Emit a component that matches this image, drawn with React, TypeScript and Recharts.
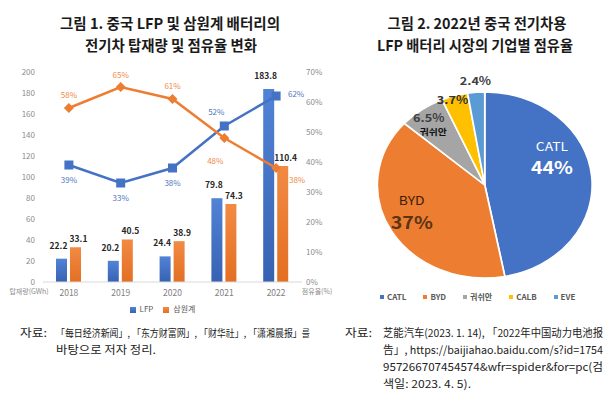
import React from 'react';
import {
  ComposedChart,
  Bar,
  Line,
  XAxis,
  YAxis,
  Legend,
  LabelList,
  PieChart,
  Pie,
  Cell,
} from 'recharts';

// ---------- data: figure 1 ----------
const years = ['2018', '2019', '2020', '2021', '2022'];
const lfpVolume = [22.2, 20.2, 24.4, 79.8, 183.8];
const ncmVolume = [33.1, 40.5, 38.9, 74.3, 110.4];
const lfpShare = [39, 33, 38, 52, 62];
const ncmShare = [58, 65, 61, 48, 38];
const volumeTicks = [0, 20, 40, 60, 80, 100, 120, 140, 160, 180, 200];
const shareTicks = [0, 10, 20, 30, 40, 50, 60, 70];

// ---------- data: figure 2 ----------
const companies = ['CATL', 'BYD', '궈쉬안', 'CALB', 'EVE'];
const companyShare = [44, 37, 6.5, 3.7, 2.4];

// ---------- texts ----------
const title1 = ['그림 1. 중국 LFP 및 삼원계 배터리의', '전기차 탑재량 및 점유율 변화'];
const title2 = ['그림 2. 2022년 중국 전기차용', 'LFP 배터리 시장의 기업별 점유율'];
const sourceLabel = '자료:';
const note1 = ['「每日经济新闻」, 「东方财富网」, 「财华社」, 「潇湘晨报」를', '바탕으로 저자 정리.'];
const note2 = [
  '芝能汽车(2023. 1. 14), 「2022年中国动力电池报',
  '告」, https://baijiahao.baidu.com/s?id=1754',
  '957266707454574&wfr=spider&for=pc(검',
  '색일: 2023. 4. 5).',
];

// ---------- styles ----------
const BLUE = '#4472C4';
const ORANGE = '#ED7D31';
const pieColors = ['#4472C4', '#ED7D31', '#A5A5A5', '#FFC000', '#5B9BD5'];
const FONT = '"Noto Sans CJK KR", "Noto Sans", sans-serif';

const lfpLabelOffset = [[0, 14], [0, 14], [0, 14], [-8, -15], [20, -3]];
const ncmLabelOffset = [[0, -14], [0, -13], [0, -14], [-9, 22], [21, 11]];

const pieLabelRadius = [0.65, 0.72, 0.76, 0.915, 1.08];

const tableData = years.map((y, i) => ({
  year: y,
  lfp: lfpVolume[i],
  ncm: ncmVolume[i],
  lfpShare: lfpShare[i],
  ncmShare: ncmShare[i],
}));

const pieData = companies.map((c, i) => ({ name: c, value: companyShare[i] }));

const SquareDot = (props: any) => {
  const { cx, cy } = props;
  if (cx == null || cy == null) return null;
  return <rect x={cx - 4.5} y={cy - 4.5} width={9} height={9} fill={BLUE} />;
};

const DiamondDot = (props: any) => {
  const { cx, cy } = props;
  if (cx == null || cy == null) return null;
  const r = 5;
  return (
    <polygon
      points={`${cx},${cy - r} ${cx + r},${cy} ${cx},${cy + r} ${cx - r},${cy}`}
      fill={ORANGE}
    />
  );
};

const makeLineLabel = (offsets: number[][], color: string) => (props: any) => {
  const { x, y, value, index } = props;
  const [dx, dy] = offsets[index] || [0, 0];
  return (
    <text
      x={x + dx}
      y={y + dy}
      textAnchor="middle"
      dominantBaseline="central"
      fontSize={8}
      fill={color}
      fontFamily={FONT}
    >
      {`${value}%`}
    </text>
  );
};

const makeBarLabel = (dx: number, lift: number) => (props: any) => {
  const { x, y, width, value } = props;
  return (
    <text
      x={x + width / 2 + dx}
      y={y - lift}
      textAnchor="middle"
      dominantBaseline="central"
      fontSize={8.5}
      fontWeight="bold"
      fill="#262626"
      fontFamily={FONT}
    >
      {value}
    </text>
  );
};

const RADIAN = Math.PI / 180;

const renderPieLabel = (props: any) => {
  const { cx, cy, midAngle, outerRadius, index, value, name } = props;
  const r = outerRadius * pieLabelRadius[index];
  const x = cx + r * Math.cos(-midAngle * RADIAN);
  const y = cy + r * Math.sin(-midAngle * RADIAN);
  const pct = `${value}%`;
  if (index === 0) {
    return (
      <g fontFamily={FONT}>
        <text x={x - 2} y={y - 33} textAnchor="middle" dominantBaseline="central" fontSize={12} fill="#fff">
          {name}
        </text>
        <text x={x - 2} y={y - 13} textAnchor="middle" dominantBaseline="central" fontSize={17} fontWeight="bold" fill="#fff">
          {pct}
        </text>
      </g>
    );
  }
  if (index === 1) {
    return (
      <g fontFamily={FONT}>
        <text x={x - 5} y={y - 18} textAnchor="middle" dominantBaseline="central" fontSize={12} fill="#3b1d08">
          {name}
        </text>
        <text x={x - 5} y={y + 4} textAnchor="middle" dominantBaseline="central" fontSize={17} fontWeight="bold" fill="#5c3313">
          {pct}
        </text>
      </g>
    );
  }
  if (index === 2) {
    return (
      <g fontFamily={FONT}>
        <text x={x - 7} y={y - 11} textAnchor="middle" dominantBaseline="central" fontSize={11} fontWeight="bold" fill="#404040">
          {pct}
        </text>
        <text x={x - 3} y={y + 4} textAnchor="middle" dominantBaseline="central" fontSize={8.5} fontWeight="bold" fill="#111">
          {name}
        </text>
      </g>
    );
  }
  return (
    <text
      x={index === 3 ? x - 4 : x}
      y={index === 3 ? y - 4 : y - 5}
      textAnchor="middle"
      dominantBaseline="central"
      fontSize={11}
      fontWeight="bold"
      fill={index === 3 ? '#333' : '#404040'}
      fontFamily={FONT}
    >
      {pct}
    </text>
  );
};

export default function App() {
  const noteProps = {
    dominantBaseline: 'central' as const,
    fontSize: 11,
    fill: '#222',
    lengthAdjust: 'spacingAndGlyphs' as const,
  };
  return (
    <div
      style={{
        position: 'absolute',
        left: 0,
        top: 0,
        width: 616,
        height: 398,
        background: '#fff',
        overflow: 'hidden',
        fontFamily: FONT,
      }}
    >
      {/* Figure 1 */}
      <div style={{ position: 'absolute', left: 0, top: 0 }}>
        <ComposedChart
          width={340}
          height={322}
          data={tableData}
          margin={{ top: 72, right: 8, bottom: 2, left: 3 }}
          barGap={3}
        >
          <defs>
            <linearGradient id="gBlue" x1="0" y1="0" x2="0" y2="1">
              <stop offset="0%" stopColor="#5283d6" />
              <stop offset="100%" stopColor="#3762b2" />
            </linearGradient>
            <linearGradient id="gOrange" x1="0" y1="0" x2="0" y2="1">
              <stop offset="0%" stopColor="#f28a44" />
              <stop offset="100%" stopColor="#e36f22" />
            </linearGradient>
          </defs>
          <XAxis
            dataKey="year"
            height={18}
            tickLine={false}
            tickSize={0}
            tickMargin={8}
            axisLine={{ stroke: '#d9d9d9' }}
            tick={{ fontSize: 8.5, fill: '#7f7f7f' }}
          />
          <YAxis
            yAxisId="left"
            width={40}
            domain={[0, 200]}
            ticks={volumeTicks}
            tickLine={false}
            axisLine={false}
            tickSize={0}
            tickMargin={8}
            tick={{ fontSize: 8, fill: '#8c8c8c' }}
            label={{
              value: '탑재량(GWh)',
              position: 'insideBottom',
              offset: -12,
              dx: 6,
              fontSize: 7,
              fill: '#8c8c8c',
            }}
          />
          <YAxis
            yAxisId="right"
            orientation="right"
            width={30}
            domain={[0, 70]}
            ticks={shareTicks}
            tickFormatter={(v: number) => `${v}%`}
            tickLine={false}
            axisLine={false}
            tickSize={0}
            tickMargin={4}
            tick={{ fontSize: 8, fill: '#8c8c8c', textAnchor: 'start' }}
            label={{
              value: '점유율(%)',
              position: 'insideBottom',
              offset: -12,
              fontSize: 7,
              fill: '#8c8c8c',
            }}
          />
          <Legend
            verticalAlign="bottom"
            height={20}
            iconType="square"
            iconSize={6}
            wrapperStyle={{ fontSize: 8, color: '#595959', top: 303, bottom: 'auto' }}
            formatter={(v: string) => <span style={{ color: '#595959' }}>{v}</span>}
          />
          <Bar
            yAxisId="left"
            dataKey="lfp"
            name="LFP"
            fill="url(#gBlue)"
            barSize={11}
            isAnimationActive={false}
            legendType="square"
          >
            <LabelList dataKey="lfp" content={makeBarLabel(-3, 14)} />
          </Bar>
          <Bar
            yAxisId="left"
            dataKey="ncm"
            name="삼원계"
            fill="url(#gOrange)"
            barSize={11}
            isAnimationActive={false}
            legendType="square"
          >
            <LabelList dataKey="ncm" content={makeBarLabel(3, 9)} />
          </Bar>
          <Line
            yAxisId="right"
            dataKey="lfpShare"
            stroke={BLUE}
            strokeWidth={2.5}
            dot={<SquareDot />}
            activeDot={false}
            legendType="none"
            isAnimationActive={false}
          >
            <LabelList dataKey="lfpShare" content={makeLineLabel(lfpLabelOffset, '#4f78c0')} />
          </Line>
          <Line
            yAxisId="right"
            dataKey="ncmShare"
            stroke={ORANGE}
            strokeWidth={2.5}
            dot={<DiamondDot />}
            activeDot={false}
            legendType="none"
            isAnimationActive={false}
          >
            <LabelList dataKey="ncmShare" content={makeLineLabel(ncmLabelOffset, '#ef8a45')} />
          </Line>
        </ComposedChart>
      </div>

      {/* Figure 2 */}
      <div
        style={{
          position: 'absolute',
          left: 359,
          top: 60,
          width: 240,
          height: 240,
          transform: 'scaleX(1.155)',
          transformOrigin: 'center',
        }}
      >
        <PieChart width={240} height={240}>
          <Pie
            data={pieData}
            dataKey="value"
            nameKey="name"
            cx={120}
            cy={120}
            outerRadius={93}
            startAngle={90}
            endAngle={-270}
            stroke="#fff"
            strokeWidth={1.5}
            labelLine={false}
            label={renderPieLabel}
            isAnimationActive={false}
          >
            {pieData.map((d, i) => (
              <Cell key={d.name} fill={pieColors[i]} />
            ))}
          </Pie>
        </PieChart>
      </div>

      {/* Figure 2 legend */}
      <div
        style={{
          position: 'absolute',
          left: 380,
          top: 291,
          display: 'flex',
          gap: 17,
          fontSize: 8,
          fontWeight: 'bold',
          color: '#595959',
          lineHeight: '12px',
        }}
      >
        {companies.map((c, i) => (
          <div key={c} style={{ display: 'flex', alignItems: 'center', gap: 3 }}>
            <span style={{ width: 4, height: 4, background: pieColors[i], display: 'inline-block' }} />
            <span>{c}</span>
          </div>
        ))}
      </div>

      {/* Titles and notes */}
      <svg
        width={616}
        height={398}
        style={{ position: 'absolute', left: 0, top: 0, pointerEvents: 'none' }}
        fontFamily={FONT}
      >
        <text x={170} y={22} textAnchor="middle" dominantBaseline="central" fontSize={15} fontWeight="bold" fill="#1a1a1a" textLength={220} lengthAdjust="spacingAndGlyphs">
          {title1[0]}
        </text>
        <text x={171} y={44} textAnchor="middle" dominantBaseline="central" fontSize={15} fontWeight="bold" fill="#1a1a1a" textLength={172} lengthAdjust="spacingAndGlyphs">
          {title1[1]}
        </text>
        <text x={477} y={22} textAnchor="middle" dominantBaseline="central" fontSize={15} fontWeight="bold" fill="#1a1a1a" textLength={179} lengthAdjust="spacingAndGlyphs">
          {title2[0]}
        </text>
        <text x={475} y={44} textAnchor="middle" dominantBaseline="central" fontSize={15} fontWeight="bold" fill="#1a1a1a" textLength={196} lengthAdjust="spacingAndGlyphs">
          {title2[1]}
        </text>

        <text x={20} y={332} {...noteProps} textLength={27}>{sourceLabel}</text>
        <text x={56} y={332} {...noteProps} fontSize={10} textLength={254}>{note1[0]}</text>
        <text x={56} y={349} {...noteProps} textLength={100}>{note1[1]}</text>

        <text x={345} y={332} {...noteProps} textLength={27}>{sourceLabel}</text>
        <text x={383} y={332} {...noteProps} textLength={220}>{note2[0]}</text>
        <text x={383} y={349} {...noteProps} textLength={220}>{note2[1]}</text>
        <text x={383} y={366} {...noteProps} textLength={220}>{note2[2]}</text>
        <text x={383} y={383} {...noteProps} textLength={88}>{note2[3]}</text>
      </svg>
    </div>
  );
}
